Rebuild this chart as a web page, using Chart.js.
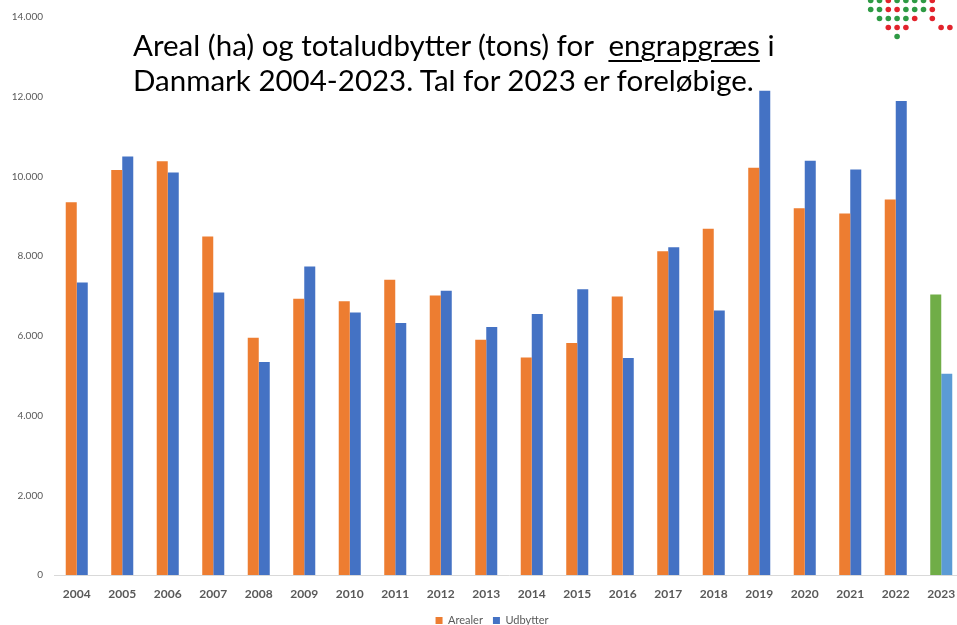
<!DOCTYPE html>
<html>
<head>
<meta charset="utf-8">
<script src="https://cdn.jsdelivr.net/npm/chart.js@4"></script>
<style>
  html, body { margin: 0; padding: 0; background: #fff; overflow: hidden; }
  #wrap { position: relative; width: 957px; height: 625px; overflow: hidden; }
  #cv { position: absolute; left: 0; top: 0; }
  #title { position: absolute; left: 133px; top: 27px; font-family: Lato, sans-serif; font-size: 29.5px; line-height: 35px; color: #000; white-space: nowrap; }
  #title u { text-decoration-thickness: 2px; text-underline-offset: 4px; }
  #logo { position: absolute; left: 860px; top: 0; }
</style>
</head>
<body>
<div id="wrap">
  <canvas id="cv" width="984" height="636" style="width:984px;height:636px"></canvas>
  <div id="title">Areal (ha) og totaludbytter (tons) for&nbsp; <u>engrapgræs</u> i<br>Danmark 2004-2023. Tal for 2023 er foreløbige.</div>
  <svg id="logo" width="97" height="45"></svg>
</div>
<script>
const years = ["2004","2005","2006","2007","2008","2009","2010","2011","2012","2013","2014","2015","2016","2017","2018","2019","2020","2021","2022","2023"];
const arealer = [9350, 10160, 10380, 8490, 5950, 6930, 6870, 7410, 7010, 5905, 5460, 5820, 6990, 8120, 8690, 10220, 9200, 9070, 9420, 7040];
const udbytter = [7340, 10500, 10100, 7090, 5345, 7740, 6585, 6325, 7130, 6225, 6550, 7170, 5445, 8225, 6635, 12150, 10395, 10175, 11890, 5050];
const yTicks = [0, 2000, 4000, 6000, 8000, 10000, 12000, 14000];

// Logo dots (decoration)
const logoRows = [
  {row: 0, cols: [0,1,2,3,4,5,6,7], colors: "ggrggggr"},
  {row: 1, cols: [0,1,2,3,4,5,6,7], colors: "ggrrgggr"},
  {row: 2, cols: [1,2,3,4,5,7], colors: "ggggrr"},
  {row: 3, cols: [2,3,4,8,9], colors: "rrrrr"},
  {row: 4, cols: [3], colors: "g"}
];
(function drawLogo(){
  const svg = document.getElementById('logo');
  const ns = 'http://www.w3.org/2000/svg';
  logoRows.forEach(r => {
    r.cols.forEach((c, i) => {
      const el = document.createElementNS(ns, 'circle');
      el.setAttribute('cx', 10.7 + c * 8.8);
      el.setAttribute('cy', 0.5 + r.row * 9);
      el.setAttribute('r', 2.8);
      el.setAttribute('fill', r.colors[i] === 'g' ? '#2e9a44' : '#e2232c');
      svg.appendChild(el);
    });
  });
})();

const grey = '#595959';
const last = years.length - 1;
const fmt = v => v === 0 ? '0' : v.toLocaleString('de-DE');

new Chart(document.getElementById('cv'), {
  type: 'bar',
  data: {
    labels: years,
    datasets: [
      { label: 'Arealer', data: arealer, yAxisID: 'y',
        backgroundColor: ctx => ctx.dataIndex === last ? '#70AD47' : '#ED7D31' },
      { label: 'Udbytter', data: udbytter, yAxisID: 'y',
        backgroundColor: ctx => ctx.dataIndex === last ? '#5B9BD5' : '#4472C4' }
    ]
  },
  options: {
    responsive: false,
    animation: false,
    devicePixelRatio: 1,
    layout: { padding: { left: 0, right: 0, top: 17, bottom: 0 } },
    datasets: { bar: { barPercentage: 1, categoryPercentage: 0.484 } },
    plugins: {
      legend: {
        position: 'bottom',
        labels: { boxWidth: 7, boxHeight: 7, padding: 10, color: grey,
                  font: { family: 'Lato', size: 11 } }
      },
      tooltip: { enabled: false }
    },
    scales: {
      x: {
        grid: { display: false, drawTicks: false },
        border: { display: true, color: '#d9d9d9', width: 1 },
        ticks: { color: grey, padding: 12, font: { family: 'Lato', size: 12, weight: 'bold' }, maxRotation: 0 },
        afterFit: s => { s.height = 30; }
      },
      y: {
        position: 'left',
        min: 0, max: 14000,
        afterBuildTicks: s => { s.ticks = yTicks.map(v => ({ value: v })); },
        grid: { display: false, drawTicks: false },
        border: { display: false },
        ticks: { color: grey, padding: 11, font: { family: 'Lato', size: 10 }, callback: v => fmt(v) },
        afterFit: s => { s.width = 54; }
      },
      yPad: {
        position: 'right',
        min: 0, max: 14000,
        grid: { display: false, drawTicks: false },
        border: { display: false },
        ticks: { display: false },
        afterFit: s => { s.width = 20; }
      }
    }
  }
});
</script>
</body>
</html>
